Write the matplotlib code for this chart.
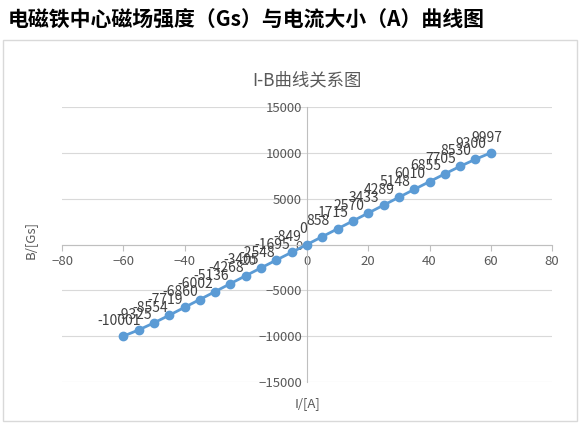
import matplotlib
matplotlib.use("Agg")
import matplotlib.pyplot as plt
from matplotlib.patches import Rectangle

plt.rcParams['font.family'] = ['Noto Sans CJK SC', 'DejaVu Sans']

current = [-60,-55,-50,-45,-40,-35,-30,-25,-20,-15,-10,-5,0,5,10,15,20,25,30,35,40,45,50,55,60]
field = [-10001,-9325,-8554,-7719,-6860,-6002,-5136,-4268,-3405,-2548,-1695,-849,0,
         858,1715,2570,3433,4289,5148,6010,6855,7705,8530,9300,9997]
xticks = [-80,-60,-40,-20,0,20,40,60,80]
yticks = [-15000,-10000,-5000,0,5000,10000,15000]

W, H = 582, 429
fig = plt.figure(figsize=(W/100, H/100), dpi=100)
fig.patches.append(Rectangle((3/W, 1-421/H), 574/W, 381/H, transform=fig.transFigure,
                             fill=False, edgecolor='#d9d9d9', lw=1))
fig.text(8/W, 1-20/H, "电磁铁中心磁场强度（Gs）与电流大小（A）曲线图", fontsize=15,
         fontweight='bold', va='center', ha='left', color='black')

ax = fig.add_axes([62/W, 1-382/H, 490/W, 275/H])
ax.set_xlim(-80, 80); ax.set_ylim(-15000, 15000)
ax.set_xticks(xticks); ax.set_yticks(yticks)
ax.grid(axis='y', color='#d9d9d9', lw=0.8)
ax.grid(axis='x', visible=False)
for s in ['top','right']:
    ax.spines[s].set_visible(False)
ax.spines['left'].set_position(('data', 0))
ax.spines['bottom'].set_position(('data', 0))
ax.spines['left'].set_color('#bfbfbf'); ax.spines['bottom'].set_color('#bfbfbf')
ax.tick_params(colors='#595959', labelsize=9.5, length=4, color='#bfbfbf')
ax.tick_params(axis='x', direction='out')
ax.tick_params(axis='y', length=0)
ax.set_axisbelow(True)

ax.plot(current, field, color='#5b9bd5', lw=2, marker='o', ms=6, zorder=3)
for x, y in zip(current, field):
    ax.annotate(str(y), (x, y), xytext=(-3, 6), textcoords='offset points',
                ha='center', va='bottom', fontsize=10, color='#404040')

fig.text(307/W, 1-80/H, "I-B曲线关系图", fontsize=12.5, color='#595959', ha='center', va='center')
fig.text(307/W, 1-404/H, "I/[A]", fontsize=9.5, color='#595959', ha='center', va='center')
fig.text(30/W, 1-240/H, "B/[Gs]", fontsize=9.5, color='#595959', ha='center', va='center', rotation=90)

fig.savefig("out.png", dpi=100)
